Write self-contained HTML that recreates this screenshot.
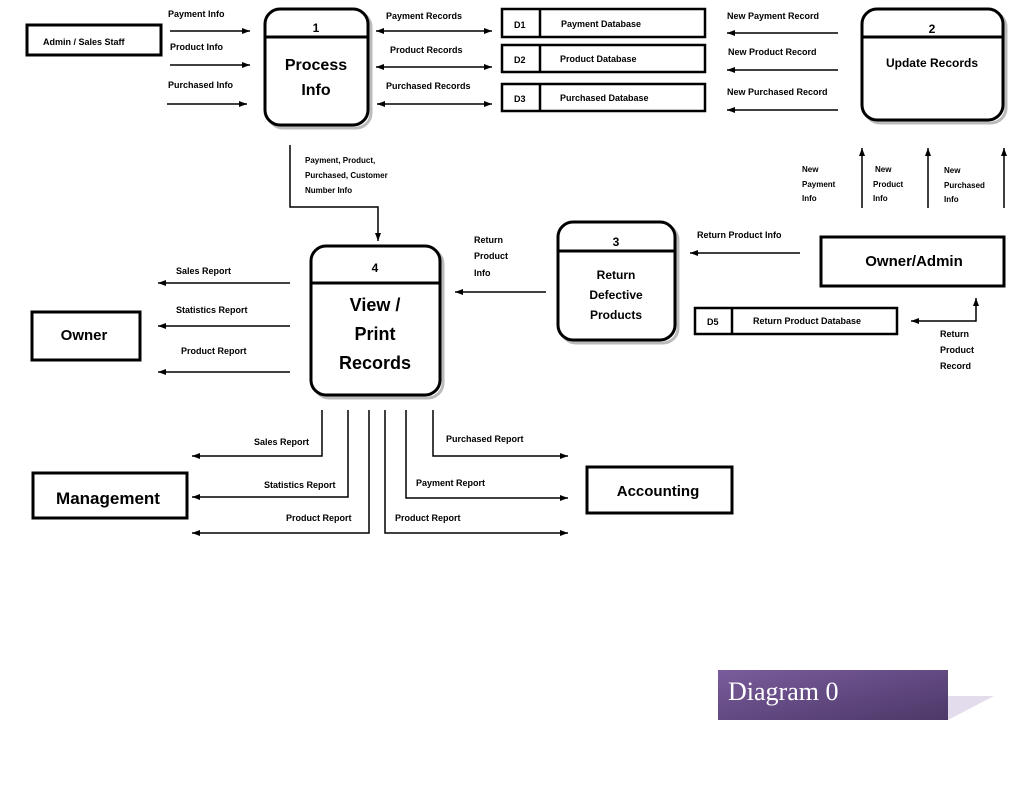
<!DOCTYPE html>
<html><head><meta charset="utf-8"><style>
html,body{margin:0;padding:0;background:#fff}
svg{display:block}
text{font-family:"Liberation Sans",sans-serif;font-weight:bold;fill:#000}
.s{font-size:9px}
.m{font-size:10px}
</style></head><body>
<svg width="1023" height="791" viewBox="0 0 1023 791" xmlns="http://www.w3.org/2000/svg">
<defs>
<marker id="a" markerWidth="8" markerHeight="6" refX="8" refY="3" orient="auto" markerUnits="userSpaceOnUse"><path d="M0,0 L8,3 L0,6 z" fill="#000"/></marker>
<marker id="b" markerWidth="8" markerHeight="6" refX="0" refY="3" orient="auto" markerUnits="userSpaceOnUse"><path d="M8,0 L0,3 L8,6 z" fill="#000"/></marker>
<linearGradient id="g" x1="0" y1="0" x2="1" y2="1"><stop offset="0" stop-color="#7a5c9c"/><stop offset="1" stop-color="#4c3868"/></linearGradient>
</defs>
<g stroke="#000" fill="none">
<!-- entities -->
<rect x="27" y="25" width="134" height="30" stroke-width="3"/>
<rect x="32" y="312" width="108" height="48" stroke-width="3"/>
<rect x="33" y="473" width="154" height="45" stroke-width="3"/>
<rect x="587" y="467" width="145" height="46" stroke-width="3"/>
<rect x="821" y="237" width="183" height="49" stroke-width="3"/>
<!-- process shadows -->
<g stroke="#bbb" stroke-width="3"><rect x="268" y="12" width="103" height="116" rx="15"/><rect x="865" y="12" width="141" height="111" rx="15"/><rect x="561" y="225" width="117" height="118" rx="15"/><rect x="314" y="249" width="129" height="149" rx="15"/></g>
<!-- processes -->
<g stroke-width="3" fill="#fff">
<rect x="265" y="9" width="103" height="116" rx="15"/><line x1="265" y1="37" x2="368" y2="37"/>
<rect x="862" y="9" width="141" height="111" rx="15"/><line x1="862" y1="37" x2="1003" y2="37"/>
<rect x="558" y="222" width="117" height="118" rx="15"/><line x1="558" y1="251" x2="675" y2="251"/>
<rect x="311" y="246" width="129" height="149" rx="15"/><line x1="311" y1="283" x2="440" y2="283"/>
</g>
<!-- stores -->
<g stroke-width="2.5">
<rect x="502" y="9" width="203" height="28"/><line x1="540" y1="9" x2="540" y2="37"/>
<rect x="502" y="45" width="203" height="27"/><line x1="540" y1="45" x2="540" y2="72"/>
<rect x="502" y="84" width="203" height="27"/><line x1="540" y1="84" x2="540" y2="111"/>
<rect x="695" y="308" width="202" height="26"/><line x1="732" y1="308" x2="732" y2="334"/>
</g>
<!-- arrows -->
<g stroke-width="1.5">
<line x1="170" y1="31" x2="250" y2="31" marker-end="url(#a)"/>
<line x1="170" y1="65" x2="250" y2="65" marker-end="url(#a)"/>
<line x1="167" y1="104" x2="247" y2="104" marker-end="url(#a)"/>
<line x1="376" y1="31" x2="492" y2="31" marker-start="url(#b)" marker-end="url(#a)"/>
<line x1="376" y1="67" x2="492" y2="67" marker-start="url(#b)" marker-end="url(#a)"/>
<line x1="377" y1="104" x2="492" y2="104" marker-start="url(#b)" marker-end="url(#a)"/>
<line x1="838" y1="33" x2="727" y2="33" marker-end="url(#a)"/>
<line x1="838" y1="70" x2="727" y2="70" marker-end="url(#a)"/>
<line x1="838" y1="110" x2="727" y2="110" marker-end="url(#a)"/>
<line x1="862" y1="208" x2="862" y2="148" marker-end="url(#a)"/>
<line x1="928" y1="208" x2="928" y2="148" marker-end="url(#a)"/>
<line x1="1004" y1="208" x2="1004" y2="148" marker-end="url(#a)"/>
<polyline points="290,145 290,207 378,207 378,241" marker-end="url(#a)"/>
<line x1="290" y1="283" x2="158" y2="283" marker-end="url(#a)"/>
<line x1="290" y1="326" x2="158" y2="326" marker-end="url(#a)"/>
<line x1="290" y1="372" x2="158" y2="372" marker-end="url(#a)"/>
<line x1="546" y1="292" x2="455" y2="292" marker-end="url(#a)"/>
<line x1="800" y1="253" x2="690" y2="253" marker-end="url(#a)"/>
<polyline points="911,321 976,321 976,298" marker-start="url(#b)" marker-end="url(#a)"/>
<polyline points="322,410 322,456 192,456" marker-end="url(#a)"/>
<polyline points="348,410 348,497 192,497" marker-end="url(#a)"/>
<polyline points="369,410 369,533 192,533" marker-end="url(#a)"/>
<polyline points="385,410 385,533 568,533" marker-end="url(#a)"/>
<polyline points="406,410 406,498 568,498" marker-end="url(#a)"/>
<polyline points="433,410 433,456 568,456" marker-end="url(#a)"/>
</g>
</g>
<!-- text -->
<text class="s" x="43" y="45">Admin / Sales Staff</text>
<text class="m" x="84" y="340" text-anchor="middle" style="font-size:15px">Owner</text>
<text x="108" y="504" text-anchor="middle" style="font-size:17px">Management</text>
<text x="658" y="496" text-anchor="middle" style="font-size:15px">Accounting</text>
<text x="914" y="266" text-anchor="middle" style="font-size:15px">Owner/Admin</text>
<text class="m" x="316" y="32" text-anchor="middle" style="font-size:12px">1</text>
<text x="316" y="70" text-anchor="middle" style="font-size:16px">Process</text>
<text x="316" y="95" text-anchor="middle" style="font-size:16px">Info</text>
<text x="932" y="33" text-anchor="middle" style="font-size:12px">2</text>
<text x="932" y="67" text-anchor="middle" style="font-size:12px">Update Records</text>
<text x="616" y="246" text-anchor="middle" style="font-size:12px">3</text>
<text x="616" y="279" text-anchor="middle" style="font-size:12px">Return</text>
<text x="616" y="299" text-anchor="middle" style="font-size:12px">Defective</text>
<text x="616" y="319" text-anchor="middle" style="font-size:12px">Products</text>
<text x="375" y="272" text-anchor="middle" style="font-size:12px">4</text>
<text x="375" y="311" text-anchor="middle" style="font-size:18px">View /</text>
<text x="375" y="340" text-anchor="middle" style="font-size:18px">Print</text>
<text x="375" y="369" text-anchor="middle" style="font-size:18px">Records</text>
<g class="s">
<text class="s" x="514" y="28">D1</text><text class="s" x="561" y="27">Payment Database</text>
<text class="s" x="514" y="63">D2</text><text class="s" x="560" y="62">Product Database</text>
<text class="s" x="514" y="102">D3</text><text class="s" x="560" y="101">Purchased Database</text>
<text class="s" x="707" y="325">D5</text><text class="s" x="753" y="324">Return Product Database</text>
<text class="s" x="168" y="17">Payment Info</text>
<text class="s" x="170" y="50">Product Info</text>
<text class="s" x="168" y="88">Purchased Info</text>
<text class="s" x="386" y="19">Payment Records</text>
<text class="s" x="390" y="53">Product Records</text>
<text class="s" x="386" y="89">Purchased Records</text>
<text class="s" x="727" y="19">New Payment Record</text>
<text class="s" x="728" y="55">New Product Record</text>
<text class="s" x="727" y="95">New Purchased Record</text>
<text class="s" x="802" y="172" style="font-size:8px">New</text><text class="s" x="802" y="187" style="font-size:8px">Payment</text><text class="s" x="802" y="201" style="font-size:8px">Info</text>
<text class="s" x="875" y="172" style="font-size:8px">New</text><text class="s" x="873" y="187" style="font-size:8px">Product</text><text class="s" x="873" y="201" style="font-size:8px">Info</text>
<text class="s" x="944" y="173" style="font-size:8px">New</text><text class="s" x="944" y="188" style="font-size:8px">Purchased</text><text class="s" x="944" y="202" style="font-size:8px">Info</text>
<text class="s" x="305" y="163" style="font-size:8px">Payment, Product,</text>
<text class="s" x="305" y="178" style="font-size:8px">Purchased, Customer</text>
<text class="s" x="305" y="193" style="font-size:8px">Number Info</text>
<text class="s" x="176" y="274">Sales Report</text>
<text class="s" x="176" y="313">Statistics Report</text>
<text class="s" x="181" y="354">Product Report</text>
<text class="s" x="474" y="243">Return</text><text class="s" x="474" y="259">Product</text><text class="s" x="474" y="276">Info</text>
<text class="s" x="697" y="238">Return Product Info</text>
<text class="s" x="940" y="337">Return</text><text class="s" x="940" y="353">Product</text><text class="s" x="940" y="369">Record</text>
<text class="s" x="254" y="445">Sales Report</text>
<text class="s" x="264" y="488">Statistics Report</text>
<text class="s" x="286" y="521">Product Report</text>
<text class="s" x="395" y="521">Product Report</text>
<text class="s" x="416" y="486">Payment Report</text>
<text class="s" x="446" y="442">Purchased Report</text>
</g>
<!-- banner -->
<polygon points="948,696 994,696 948,720" fill="#e2dcec"/>
<rect x="718" y="670" width="230" height="50" fill="url(#g)"/>
<text x="728" y="700" style="font-family:'Liberation Serif',serif;font-weight:normal;font-size:26px;fill:#fff">Diagram 0</text>
</svg>
</body></html>
